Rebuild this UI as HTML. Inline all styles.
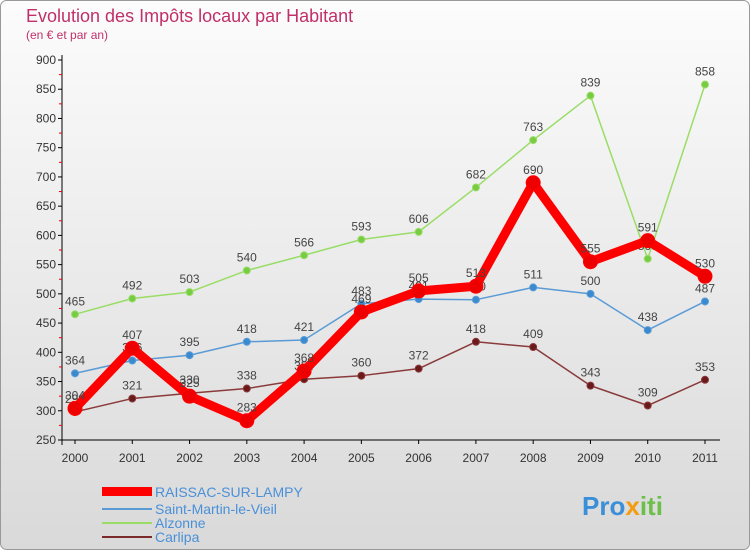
<!DOCTYPE html>
<html><head><meta charset="utf-8"><style>
body{margin:0;width:750px;height:550px;overflow:hidden;font-family:"Liberation Sans",sans-serif}
</style></head><body>
<svg id="c" width="750" height="550" xmlns="http://www.w3.org/2000/svg">
<defs><linearGradient id="bg" x1="0" y1="0" x2="0" y2="1"><stop offset="0" stop-color="#fcfcfc"/><stop offset="1" stop-color="#d9d9d9"/></linearGradient></defs>
<rect x="0.5" y="0.5" width="749" height="549" rx="6" fill="url(#bg)" stroke="#999"/>
<text x="26" y="22" font-size="18" fill="#c0306a">Evolution des Impôts locaux par Habitant</text>
<text x="26" y="39" font-size="12" fill="#c0306a">(en € et par an)</text>
<g id="axes"></g><g id="series"></g>
<g>
<rect x="102" y="487" width="50" height="9" fill="#f00"/>
<text x="155" y="497" font-size="14" fill="#4a90d9">RAISSAC-SUR-LAMPY</text>
<line x1="102" y1="509" x2="152" y2="509" stroke="#5a9bd5" stroke-width="2"/>
<text x="155" y="514" font-size="14" fill="#4a90d9">Saint-Martin-le-Vieil</text>
<line x1="102" y1="523" x2="152" y2="523" stroke="#99dd66" stroke-width="2"/>
<text x="155" y="528" font-size="14" fill="#4a90d9">Alzonne</text>
<line x1="102" y1="537" x2="152" y2="537" stroke="#7a2a2a" stroke-width="2"/>
<text x="155" y="542" font-size="14" fill="#4a90d9">Carlipa</text>
</g>
<text x="582" y="515" font-size="26" font-weight="bold" fill="#3a8fd8">Pro<tspan fill="#f39c12">x</tspan><tspan fill="#6cc04a">iti</tspan></text>
</svg>
<script>
const years=["2000","2001","2002","2003","2004","2005","2006","2007","2008","2009","2010","2011"];
const yTicks=[250,300,350,400,450,500,550,600,650,700,750,800,850,900];
const raissac=[304,407,325,283,368,469,505,513,690,555,591,530];
const saintMartin=[364,386,395,418,421,483,491,490,511,500,438,487];
const alzonne=[465,492,503,540,566,593,606,682,763,839,560,858];
const carlipa=[298,321,330,338,354,360,372,418,409,343,309,353];
const NS="http://www.w3.org/2000/svg";
const X=i=>75+i*(630/11);
const Y=v=>440-(v-250)*(380/650);
function mk(t,a,p){const e=document.createElementNS(NS,t);for(const k in a)e.setAttribute(k,a[k]);p.appendChild(e);return e;}
const ax=document.getElementById('axes');
const yl=mk('line',{x1:62,y1:55,x2:62,y2:445,stroke:'#000'},ax);


const xl=mk('line',{x1:62,y1:440,x2:720,y2:440,stroke:'#000'},ax);


yTicks.forEach(v=>{
 mk('line',{x1:58,y1:Y(v),x2:62,y2:Y(v),stroke:'#000'},ax);
 if(v<900)mk('line',{x1:59,y1:Y(v+25),x2:62,y2:Y(v+25),stroke:'#e00'},ax);
 const t=mk('text',{x:56,y:Y(v)+4,'font-size':12,'text-anchor':'end',fill:'#333'},ax);t.textContent=v;
 
 
});
years.forEach((y,i)=>{
 mk('line',{x1:X(i),y1:440,x2:X(i),y2:444,stroke:'#000'},ax);
 const t=mk('text',{x:X(i),y:462,'font-size':12,'text-anchor':'middle',fill:'#333'},ax);t.textContent=y;
 
 
});
const sg=document.getElementById('series');
function draw(data,name,color,w,r,dot){
 const g=mk('g',{},sg);
 
 
 mk('polyline',{points:data.map((v,i)=>X(i)+','+Y(v)).join(' '),fill:'none',stroke:color,'stroke-width':w,'stroke-linejoin':'round'},g);
 data.forEach((v,i)=>{
  const c=mk('circle',{cx:X(i),cy:Y(v),r:r,fill:dot,stroke:color,'stroke-width':1},g);
  
  
  const t=mk('text',{x:X(i),y:Y(v)-9,'font-size':12,'text-anchor':'middle',fill:'#444'},g);t.textContent=v;
  
  
 });
}
draw(alzonne,'alzonne','#99dd66',1.5,3.5,'#77cc44');
draw(saintMartin,'saint-martin','#5a9bd5',1.5,3.5,'#3a8ad0');
draw(carlipa,'carlipa','#8a3a3a',1.5,3.5,'#6a1a1a');
draw(raissac,'raissac','#ff0000',9,7,'#ee0000');
</script>
</body></html>
